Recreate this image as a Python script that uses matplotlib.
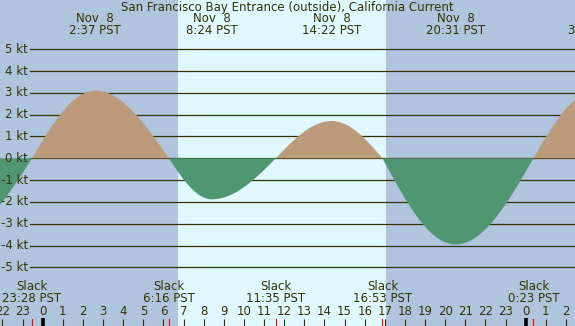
import matplotlib
matplotlib.use("Agg")
import matplotlib.pyplot as plt
import matplotlib.transforms as mtransforms
import numpy as np

# hours relative to Nov 8 00:00 PST
event_hours = [-4.33, -0.533, 2.617, 6.267, 8.40, 11.583, 14.367, 16.883, 20.517, 24.383, 27.40]
event_speed = [-3.5, 0.0, 3.1, 0.0, -1.88, 0.0, 1.71, 0.0, -3.95, 0.0, 3.05]

max_hours = [2.617, 8.40, 14.367, 20.517, 27.40]
max_dates = ["Nov  8", "Nov  8", "Nov  8", "Nov  8", "Nov  9"]
max_labels = ["2:37 PST", "8:24 PST", "14:22 PST", "20:31 PST", "3:24 PST"]

slack_hours = [-0.533, 6.267, 11.583, 16.883, 24.383]
slack_labels = ["23:28 PST", "6:16 PST", "11:35 PST", "16:53 PST", "0:23 PST"]

sunrise, sunset = 6.72, 17.06
kt_levels = [5, 4, 3, 2, 1, 0, -1, -2, -3, -4, -5]
hour_ticks = list(range(-2, 27))

title = "San Francisco Bay Entrance (outside), California Current"

night_col = "#b0c4de"
day_col = "#e0f8ff"
flood_col = "#bc9a7c"
ebb_col = "#509673"
ink = "#333300"
fs = 8.5


def current_at(t):
    # quarter-sine between slack and extreme, like the tide tables
    v = np.zeros_like(t)
    for i in range(len(event_hours) - 1):
        t0, t1 = event_hours[i], event_hours[i + 1]
        v0, v1 = event_speed[i], event_speed[i + 1]
        m = (t >= t0) & (t <= t1)
        f = (t[m] - t0) / (t1 - t0)
        if v0 == 0:
            v[m] = v1 * np.sin(np.pi / 2 * f)
        else:
            v[m] = v0 * np.cos(np.pi / 2 * f)
    return v


W, H = 575, 326
x0_px, px_per_h = 42.7, 20.125
zero_px, px_per_kt = 158.3, 21.8

fig = plt.figure(figsize=(W / 100, H / 100), dpi=100)
ax = fig.add_axes([0, 0, 1, 1])
ax.set_xlim(-x0_px / px_per_h, (W - x0_px) / px_per_h)
ax.set_ylim(-(H - zero_px) / px_per_kt, zero_px / px_per_kt)
ax.axis("off")
fig.patch.set_facecolor(night_col)
ax.set_facecolor(night_col)

ax.axvspan(sunrise, sunset, color=day_col, zorder=0, lw=0)

for k in kt_levels:
    ax.axhline(k, xmin=30 / W, xmax=1, color=ink, lw=0.9, zorder=1)
    ax.text(-x0_px / px_per_h + 28 / px_per_h, k, f"{k} kt", ha="right", va="center",
            fontsize=fs, color=ink, zorder=5)

t = np.linspace(event_hours[0], event_hours[-1], 4000)
v = current_at(t)
ax.fill_between(t, 0, v, where=v >= 0, interpolate=True, color=flood_col, lw=0, zorder=2)
ax.fill_between(t, 0, v, where=v <= 0, interpolate=True, color=ebb_col, lw=0, zorder=2)

trans = mtransforms.blended_transform_factory(ax.transData, ax.transAxes)


def fy(py):
    return 1 - py / H


ax.text(0.5, fy(7), title, transform=ax.transAxes, ha="center", va="center",
        fontsize=fs, color=ink)
for h, d, lab in zip(max_hours, max_dates, max_labels):
    ax.text(h, fy(19), d, transform=trans, ha="center", va="center", fontsize=fs, color=ink)
    ax.text(h, fy(31), lab, transform=trans, ha="center", va="center", fontsize=fs, color=ink)

for h, lab in zip(slack_hours, slack_labels):
    ax.text(h, fy(287), "Slack", transform=trans, ha="center", va="center", fontsize=fs, color=ink)
    ax.text(h, fy(299), lab, transform=trans, ha="center", va="center", fontsize=fs, color=ink)
    ax.plot([h, h], [0, fy(318.5)], transform=trans, color="red", lw=0.8, zorder=4)

for h in hour_ticks:
    ax.text(h, fy(311.5), str(h % 24), transform=trans, ha="center", va="center",
            fontsize=fs, color=ink)
    if h % 24 == 0:
        ax.plot([h, h], [0, fy(317.5)], transform=trans, color="black", lw=2.6,
                solid_capstyle="butt", zorder=4)
    else:
        ax.plot([h, h], [0, fy(318.5)], transform=trans, color=ink, lw=0.8,
                solid_capstyle="butt", zorder=4)

fig.savefig("out.png", dpi=100, facecolor=night_col)
